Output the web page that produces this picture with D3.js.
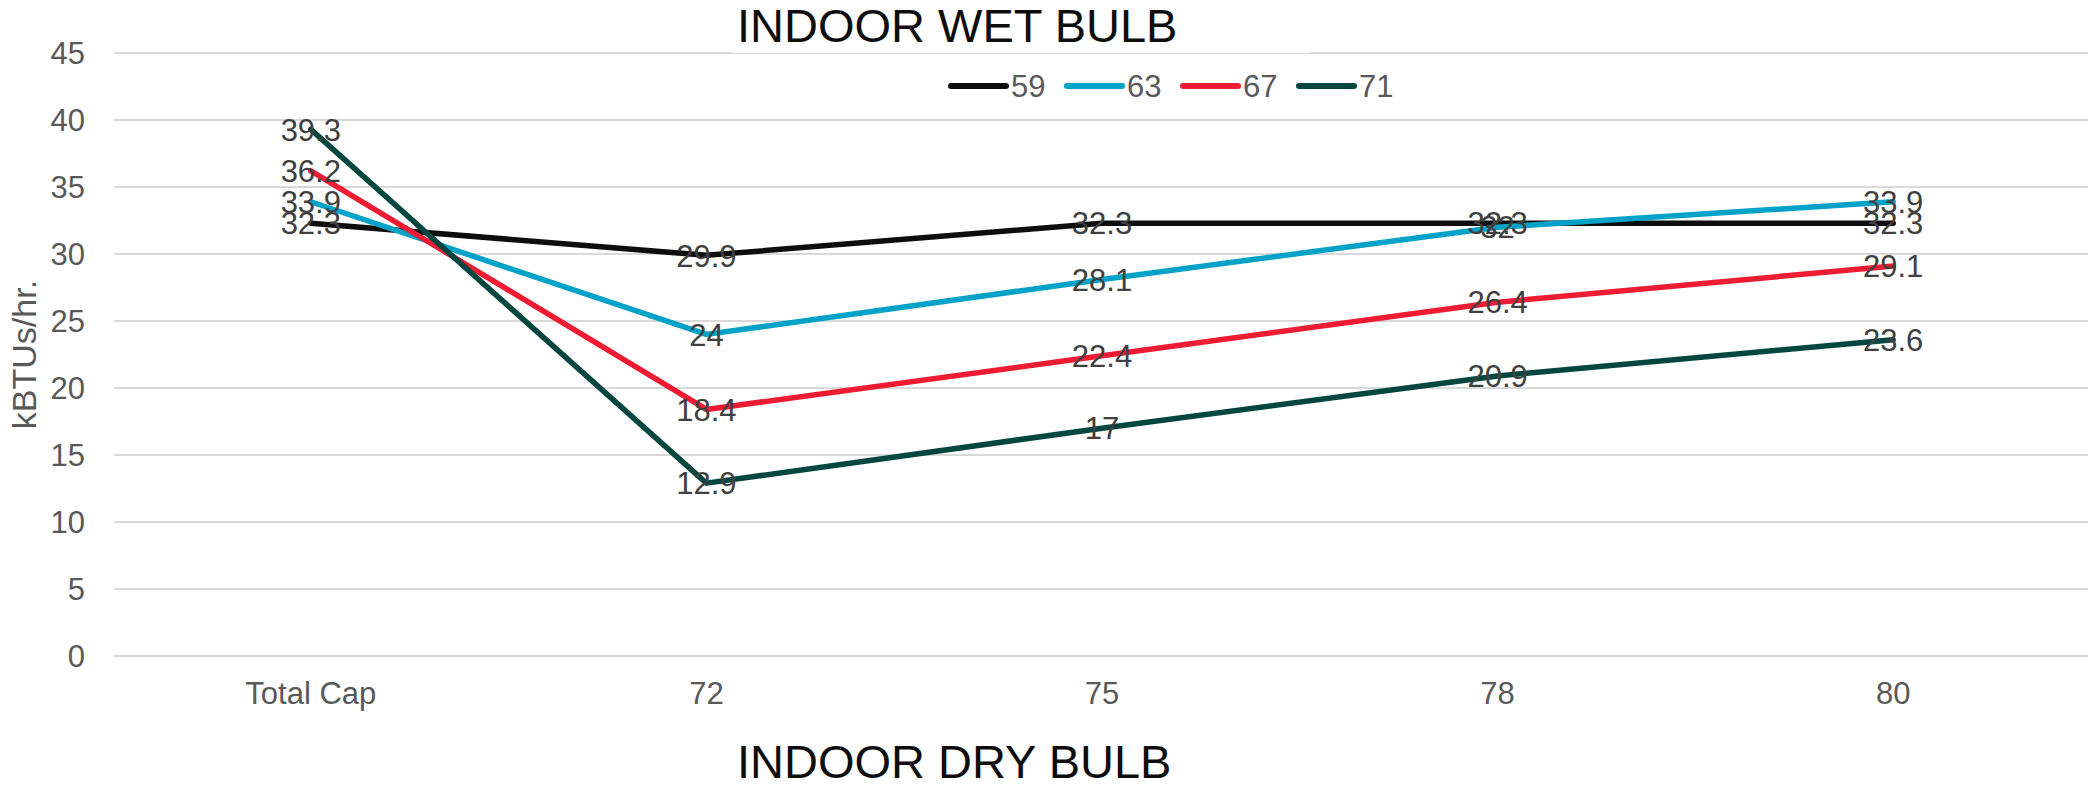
<!DOCTYPE html>
<html>
<head>
<meta charset="utf-8">
<script src="https://cdn.jsdelivr.net/npm/d3@7"></script>
<style>
  html, body { margin: 0; padding: 0; background: #ffffff; }
  svg { display: block; font-family: "Liberation Sans", Arial, sans-serif; }
</style>
</head>
<body>
<svg id="chart" width="2088" height="785"></svg>
<script>
// Categories along the x axis (indoor dry bulb)
const categories = ["Total Cap", "72", "75", "78", "80"];

// Series keyed by indoor wet bulb
const seriesNames = ["59", "63", "67", "71"];
const values59 = [32.3, 29.9, 32.3, 32.3, 32.3];
const values63 = [33.9, 24, 28.1, 32, 33.9];
const values67 = [36.2, 18.4, 22.4, 26.4, 29.1];
const values71 = [39.3, 12.9, 17, 20.9, 23.6];
const seriesColors = ["#0d0d0d", "#00a2c8", "#ee1b33", "#02473f"];

// Y axis ticks
const yTicks = [0, 5, 10, 15, 20, 25, 30, 35, 40, 45];

const chartTitle = "INDOOR WET BULB";
const xTitle = "INDOOR DRY BULB";
const yTitle = "kBTUs/hr.";

const series = [values59, values63, values67, values71].map((vals, i) => ({
  name: seriesNames[i],
  color: seriesColors[i],
  values: vals
}));

const svg = d3.select("#chart");

const x = d3.scalePoint()
  .domain(categories)
  .range([113, 2091])
  .padding(0.5);

const y = d3.scaleLinear()
  .domain([0, 45])
  .range([656, 53]);

// Horizontal gridlines
svg.append("g")
  .selectAll("line")
  .data(yTicks)
  .join("line")
  .attr("x1", 114)
  .attr("x2", 2088)
  .attr("y1", d => y(d))
  .attr("y2", d => y(d))
  .attr("stroke", "#d9d9d9")
  .attr("stroke-width", 2);

// Y tick labels
svg.append("g")
  .selectAll("text")
  .data(yTicks)
  .join("text")
  .attr("x", 85)
  .attr("y", d => y(d))
  .attr("dy", "0.35em")
  .attr("text-anchor", "end")
  .attr("font-size", 31)
  .attr("fill", "#595959")
  .text(d => d);

// X category labels
svg.append("g")
  .selectAll("text")
  .data(categories)
  .join("text")
  .attr("x", d => x(d))
  .attr("y", 704)
  .attr("text-anchor", "middle")
  .attr("font-size", 31)
  .attr("fill", "#595959")
  .text(d => d);

// Y axis title
svg.append("text")
  .attr("transform", `translate(36, ${(y(0) + y(45)) / 2}) rotate(-90)`)
  .attr("text-anchor", "middle")
  .attr("font-size", 34)
  .attr("fill", "#595959")
  .text(yTitle);

// Series lines
const line = d3.line()
  .x((d, i) => x(categories[i]))
  .y(d => y(d));

svg.append("g")
  .selectAll("path")
  .data(series)
  .join("path")
  .attr("d", s => line(s.values))
  .attr("fill", "none")
  .attr("stroke", s => s.color)
  .attr("stroke-width", 5.5)
  .attr("stroke-linejoin", "round")
  .attr("stroke-linecap", "round");

// Value labels centred on each point
const labelGroup = svg.append("g");
series.forEach(s => {
  labelGroup.selectAll(null)
    .data(s.values)
    .join("text")
    .attr("x", (d, i) => x(categories[i]))
    .attr("y", d => y(d))
    .attr("dy", "0.36em")
    .attr("text-anchor", "middle")
    .attr("font-size", 31)
    .attr("fill", "#404040")
    .text(d => d);
});

// Chart title with white backing
svg.append("rect")
  .attr("x", 733)
  .attr("y", 0)
  .attr("width", 576)
  .attr("height", 53)
  .attr("fill", "#ffffff");

svg.append("text")
  .attr("x", 737)
  .attr("y", 42)
  .attr("font-size", 47)
  .attr("fill", "#0d0d0d")
  .text(chartTitle);

// Legend
const legendStart = 951;
const legendStep = 116;
const legend = svg.append("g")
  .selectAll("g")
  .data(series)
  .join("g")
  .attr("transform", (d, i) => `translate(${legendStart + i * legendStep}, 86)`);

legend.append("line")
  .attr("x1", 0)
  .attr("x2", 55)
  .attr("y1", 0)
  .attr("y2", 0)
  .attr("stroke", d => d.color)
  .attr("stroke-width", 6)
  .attr("stroke-linecap", "round");

legend.append("text")
  .attr("x", 60)
  .attr("y", 11)
  .attr("font-size", 31)
  .attr("fill", "#595959")
  .text(d => d.name);

// X axis title
svg.append("text")
  .attr("x", 737)
  .attr("y", 778)
  .attr("font-size", 47)
  .attr("fill", "#0d0d0d")
  .text(xTitle);
</script>
</body>
</html>
